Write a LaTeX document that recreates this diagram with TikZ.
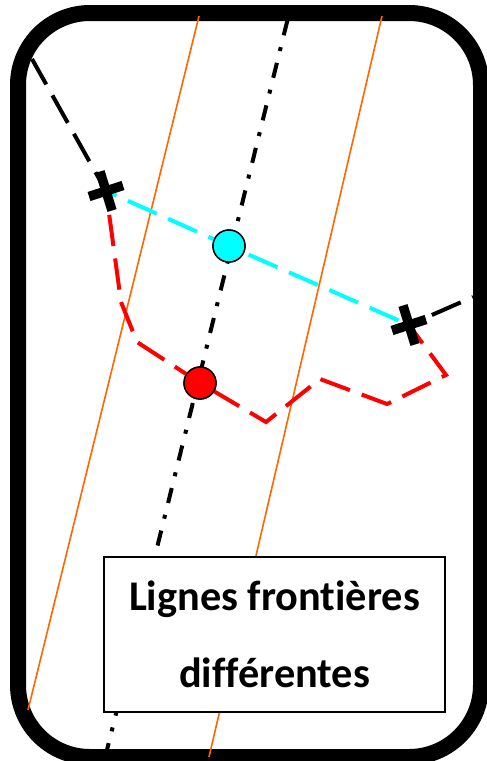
\documentclass[tikz,border=0pt]{standalone}
\usepackage{fontspec}
\newfontfamily\labelfont[RawFeature={-liga}]{Carlito}
\definecolor{bandorange}{RGB}{255,102,0}
\definecolor{puredcyan}{RGB}{0,255,255}
\tikzset{
  frame/.style={line width=16pt, rounded corners=72pt},
  band/.style={draw=bandorange, line width=1.6pt},
  axisline/.style={line width=4pt, dash pattern=on 15.4pt off 12.2pt on 4pt off 12.2pt},
  boundary/.style={line width=4pt, dash pattern=on 31.5pt off 12.55pt},
  crossarm/.style={line width=9.5pt},
  dot/.style={circle, draw, line width=1.4pt, minimum size=32pt, inner sep=0pt},
  caption/.style={draw, fill=white, line width=1.2pt, minimum width=341pt, minimum height=155pt,
    align=center, inner sep=0pt, font=\labelfont\bfseries\fontsize{42.3}{77}\selectfont}
}
\begin{document}
\begin{tikzpicture}[x=1pt, y=-1pt]
\clip (0,0) rectangle (487,761);
\draw[frame] (18,13) rectangle (481,757);

\coordinate (bandAtop) at (199,16);
\coordinate (bandAbot) at (28,710);
\coordinate (bandBtop) at (382,16);
\coordinate (bandBbot) at (209,757);
\coordinate (axistop) at (288,18);
\coordinate (axisbot) at (107,750);
\coordinate (leftend) at (32,59);
\coordinate (rightend) at (473,297);
\coordinate (crossA) at (106,191);
\coordinate (crossB) at (409,325);

\foreach \i in {A, B}
    \draw[band] (band\i top) -- (band\i bot);

\draw[axisline, dash phase=41.4pt] (axistop) -- (axisbot);
\draw[boundary, dash phase=2.35pt] (leftend) -- (crossA);
\draw[boundary, dash phase=30.65pt] (rightend) -- (crossB);

\node[dot, fill=puredcyan] (cyandot) at (229,246) {};
\node[dot, fill=red] (reddot) at (200,383) {};

% red line, then cyan line
\draw[boundary, red, dash phase=20.05pt] (crossA) -- (121,302) -- (137,342)
    -- (reddot.center) -- (266,422) -- (320,379) -- (387,404) -- (446,375) -- (crossB);
\draw[boundary, puredcyan, dash phase=20.05pt] (crossA) -- (cyandot.center) -- (crossB);
\node[dot, fill=red] at (reddot) {};
\node[dot, fill=puredcyan] at (cyandot) {};

\foreach \c in {crossA, crossB} {
    \draw[crossarm] ([shift={(-6,-19.5)}]\c) -- ([shift={(6,19.5)}]\c);
    \draw[crossarm] ([shift={(-17,5.5)}]\c) -- ([shift={(17,-5.5)}]\c);
}

\node[caption] (legend) at (274.5,634.5) {Lignes frontières\\différentes};
%
\end{tikzpicture}
\end{document}
